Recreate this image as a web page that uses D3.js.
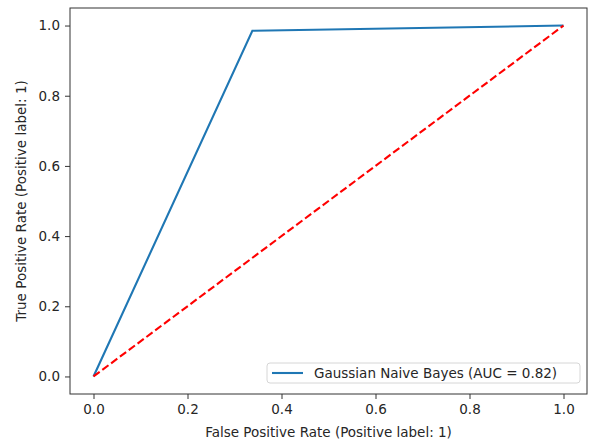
<!DOCTYPE html>
<html>
<head>
<meta charset="utf-8">
<script src="https://cdn.jsdelivr.net/npm/d3@7"></script>
<style>
  body { margin: 0; background: #fff; }
  svg text { font-family: "DejaVu Sans", sans-serif; fill: #262626; }
</style>
</head>
<body>
<div id="chart"></div>
<script>
// ROC curve values
const fpr = [0, 0.338, 1];
const tpr = [0, 0.985, 1];
const chanceX = [0, 1];
const chanceY = [0, 1];
const tickValues = [0, 0.2, 0.4, 0.6, 0.8, 1.0];
const seriesLabel = 'Gaussian Naive Bayes (AUC = 0.82)';
const xLabel = 'False Positive Rate (Positive label: 1)';
const yLabel = 'True Positive Rate (Positive label: 1)';

const width = 591, height = 445;
const margin = { left: 70, right: 4, top: 8, bottom: 51 };
const plotW = width - margin.left - margin.right;
const plotH = height - margin.top - margin.bottom;

const svg = d3.select('#chart').append('svg')
  .attr('width', width)
  .attr('height', height);

const g = svg.append('g')
  .attr('transform', 'translate(' + margin.left + ',' + margin.top + ')');

const x = d3.scaleLinear().domain([-0.05, 1.05]).range([0, plotW]);
const y = d3.scaleLinear().domain([-0.05, 1.05]).range([plotH, 0]);

// axes
const xAxis = g.append('g')
  .attr('transform', 'translate(0,' + plotH + ')')
  .call(d3.axisBottom(x).tickValues(tickValues).tickFormat(d3.format('.1f'))
    .tickSize(5).tickPadding(5));
const yAxis = g.append('g')
  .call(d3.axisLeft(y).tickValues(tickValues).tickFormat(d3.format('.1f'))
    .tickSize(5).tickPadding(5));

[xAxis, yAxis].forEach(function(a) {
  a.select('.domain').remove();
  a.selectAll('.tick line').attr('stroke', '#333').attr('stroke-width', 1);
  a.selectAll('.tick text').attr('font-size', 13.5).style('fill', '#262626');
});

// frame
g.append('rect')
  .attr('x', 0).attr('y', 0)
  .attr('width', plotW).attr('height', plotH)
  .attr('fill', 'none')
  .attr('stroke', '#333')
  .attr('stroke-width', 1);

const line = d3.line()
  .x(function(d) { return x(d[0]); })
  .y(function(d) { return y(d[1]); });

// ROC
g.append('path')
  .datum(fpr.map(function(v, i) { return [v, tpr[i]]; }))
  .attr('d', line)
  .attr('fill', 'none')
  .attr('stroke', '#1f77b4')
  .attr('stroke-width', 2.1);

// chance line
g.append('path')
  .datum(chanceX.map(function(v, i) { return [v, chanceY[i]]; }))
  .attr('d', line)
  .attr('fill', 'none')
  .attr('stroke', '#ff0000')
  .attr('stroke-width', 2.1)
  .attr('stroke-dasharray', '7.7,3.3');

// legend
const lg = g.append('g').attr('transform', 'translate(' + (267 - margin.left) + ',' + (363 - margin.top) + ')');
lg.append('rect')
  .attr('width', 313).attr('height', 20)
  .attr('rx', 3)
  .attr('fill', '#fff')
  .attr('fill-opacity', 0.8)
  .attr('stroke', '#d6d6d6');
lg.append('line')
  .attr('x1', 5).attr('x2', 36)
  .attr('y1', 10).attr('y2', 10)
  .attr('stroke', '#1f77b4')
  .attr('stroke-width', 2.1);
lg.append('text')
  .attr('x', 47).attr('y', 15)
  .attr('font-size', 13.5)
  .text(seriesLabel);

// axis labels
svg.append('text')
  .attr('x', margin.left + plotW / 2)
  .attr('y', 437)
  .attr('text-anchor', 'middle')
  .attr('font-size', 13.5)
  .text(xLabel);

svg.append('text')
  .attr('transform', 'translate(26,' + (margin.top + plotH / 2) + ') rotate(-90)')
  .attr('text-anchor', 'middle')
  .attr('font-size', 13.5)
  .text(yLabel);
</script>
</body>
</html>
